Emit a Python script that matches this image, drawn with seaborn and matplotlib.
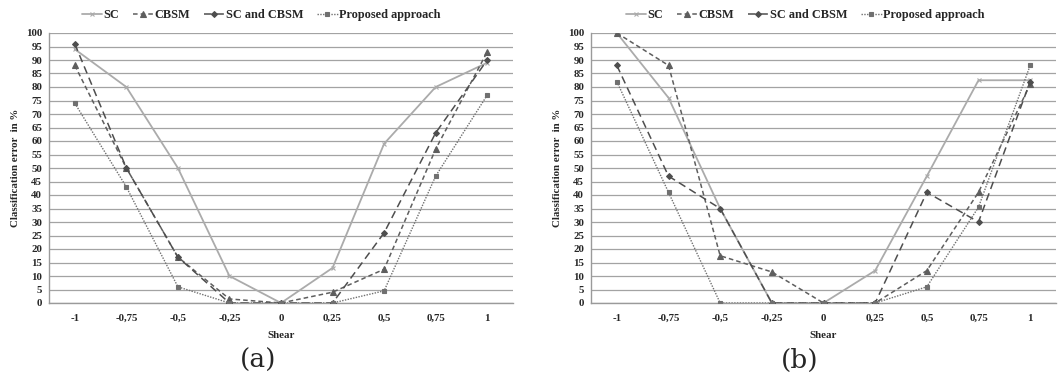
import matplotlib
matplotlib.use("Agg")
import matplotlib.pyplot as plt
import seaborn as sns
import pandas as pd
import numpy as np
from matplotlib.ticker import FixedLocator, MultipleLocator

sns.set_theme(style="white")
plt.rcParams['font.family'] = ['Liberation Serif', 'DejaVu Serif']

shear = ["-1", "-0,75", "-0,5", "-0,25", "0", "0,25", "0,5", "0,75", "1"]
series_names = ["SC", "CBSM", "SC and CBSM", "Proposed approach"]

# Panel (a)
a_sc = [94, 80, 50, 10, 0, 13, 59, 80, 89]
a_cbsm = [88, 50, 17, 1.5, 0, 4, 12.5, 57, 93]
a_sccbsm = [96, 50, 17, 0, 0, 0, 26, 63, 90]
a_prop = [74, 43, 6, 0, 0, 0, 4.5, 47, 77]

# Panel (b)
b_sc = [100, 76, 35, 0, 0, 12, 47, 82.5, 82.5]
b_cbsm = [100, 88, 17.5, 11.5, 0, 0, 12, 41, 81]
b_sccbsm = [88, 47, 35, 0, 0, 0, 41, 30, 82]
b_prop = [82, 41, 0, 0, 0, 0, 6, 35.5, 88]

styles = {
    "SC": dict(color="#ABABAB", ls="-", marker="x", ms=3.5, lw=1.3),
    "CBSM": dict(color="#5E5E5E", ls=(0, (3, 2)), marker="^", ms=4, lw=1.1),
    "SC and CBSM": dict(color="#4E4E4E", ls=(0, (5, 3)), marker="D", ms=3, lw=1.1),
    "Proposed approach": dict(color="#707070", ls=(0, (1, 1)), marker="s", ms=3.5, lw=1.0),
}

fig = plt.figure(figsize=(10.58, 3.81), dpi=100)
H = 381.0
W = 1058.0
ax_a = fig.add_axes([49 / W, 1 - 303 / H, 464 / W, 270 / H])
ax_b = fig.add_axes([591 / W, 1 - 303 / H, 465 / W, 270 / H])

panels = [
    (ax_a, [a_sc, a_cbsm, a_sccbsm, a_prop], "(a)", 261, 258),
    (ax_b, [b_sc, b_cbsm, b_sccbsm, b_prop], "(b)", 805, 800),
]

for ax, data, lab, legx, labx in panels:
    for name, vals in zip(series_names, data):
        st = styles[name]
        df = pd.DataFrame({"Shear": shear, "val": vals})
        sns.lineplot(data=df, x="Shear", y="val", ax=ax, sort=False,
                     color=st["color"], linestyle=st["ls"], marker=st["marker"],
                     markersize=st["ms"], linewidth=st["lw"],
                     markeredgecolor=st["color"], markeredgewidth=0.8,
                     label=name, zorder=3)
    ax.set_xlim(-0.5, len(shear) - 0.5)
    ax.set_ylim(0, 100)
    ax.yaxis.set_major_locator(MultipleLocator(5))
    ax.grid(axis="y", color="#A3A3A3", lw=0.9, zorder=0)
    ax.grid(axis="x", visible=False)
    for s in ["top", "right"]:
        ax.spines[s].set_visible(False)
    for s in ["left", "bottom"]:
        ax.spines[s].set_color("#9A9A9A")
        ax.spines[s].set_linewidth(1.0)
    ax.tick_params(axis="x", which="major", length=0, pad=8)
    ax.xaxis.set_minor_locator(FixedLocator(np.arange(-0.5, len(shear), 1.0)))
    ax.tick_params(axis="x", which="minor", length=4, color="#9A9A9A", width=1, direction="out")
    ax.tick_params(axis="y", which="major", length=3, color="#9A9A9A", width=1, direction="out", pad=2)
    for t in ax.get_xticklabels() + ax.get_yticklabels():
        t.set_fontsize(7.8)
        t.set_fontweight("bold")
    ax.set_xlabel("Shear", fontsize=7.8, fontweight="bold", labelpad=6)
    ax.set_ylabel("Classification error  in %", fontsize=7.8, fontweight="bold", labelpad=4)
    ax.legend(loc="center", bbox_to_anchor=(legx / W, 1 - 15 / H),
              bbox_transform=fig.transFigure, ncol=4, frameon=False,
              prop=dict(family="Liberation Serif", weight="bold", size=8.8),
              handlelength=1.7, handletextpad=0.1, columnspacing=1.1)
    fig.text(labx / W, 1 - 360 / H, lab,
             ha="center", va="center", fontsize=19, family="DejaVu Serif")

fig.savefig("out.png", dpi=100, facecolor="white")
